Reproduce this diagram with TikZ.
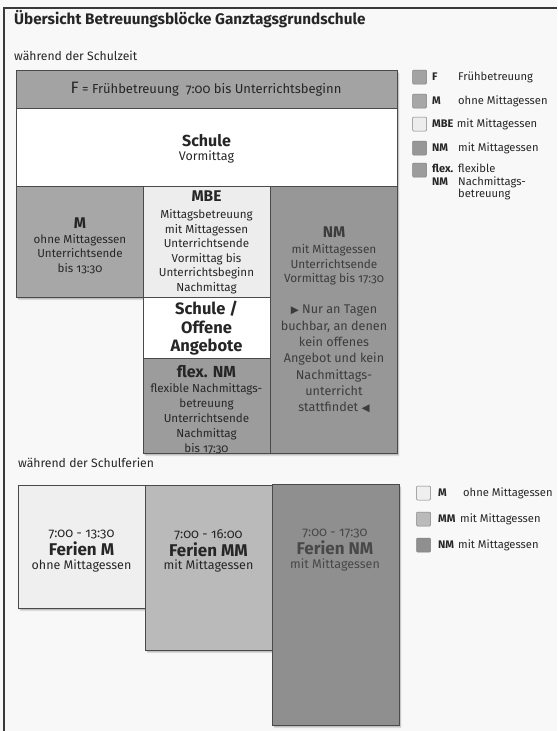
\documentclass[tikz,border=0pt]{standalone}
\usepackage{fontspec}
\setmainfont{Fira Sans}[Numbers=OldStyle]
\newfontfamily\symfont{DejaVu Sans}
\definecolor{bgcol}{HTML}{F8F8F8}
\definecolor{framecol}{HTML}{3A3A3A}
\definecolor{boxline}{HTML}{4A4A4A}
\definecolor{ink}{HTML}{262626}
\definecolor{inkNM}{HTML}{3C3C3C}
\definecolor{inkFNM}{HTML}{484848}
\definecolor{Fcol}{HTML}{A3A3A3}
\definecolor{Mcol}{HTML}{A7A7A7}
\definecolor{MBEcol}{HTML}{EDEDED}
\definecolor{NMcol}{HTML}{979797}
\definecolor{flexcol}{HTML}{9C9C9C}
\definecolor{FMcol}{HTML}{EFEFEF}
\definecolor{FMMcol}{HTML}{BABABA}
\definecolor{FNMcol}{HTML}{8F8F8F}
\begin{document}
\begin{tikzpicture}[x=1pt,y=-1pt,
  box/.style={draw=boxline, line width=0.6pt, anchor=north west, inner sep=0pt, outer sep=0pt},
  txt/.style={align=center, inner sep=0pt, text=ink},
  body/.style={font=\fontsize{11.6}{14.6}\selectfont},
  legbox/.style={draw=boxline!70, line width=0.5pt, rounded corners=1pt, minimum width=14pt, minimum height=14pt, inner sep=0pt},
  legkey/.style={anchor=west, inner sep=0pt, text=ink, font=\fontsize{11}{12.5}\selectfont\bfseries},
  legtxt/.style={anchor=west, inner sep=0pt, text=ink, font=\fontsize{11.2}{12.5}\selectfont}]
\useasboundingbox (0,0) rectangle (557,731);
\fill[bgcol] (0,0) rectangle (557,731);
\draw[framecol, line width=1.4pt] (4,731) -- (4,8) -- (557,8);

% titles
\node[anchor=base west, inner sep=0pt, text=ink, font=\fontsize{15.3}{18}\selectfont\bfseries] (title) at (14,24) {Übersicht Betreuungsblöcke Ganztagsgrundschule};
\node[anchor=base west, inner sep=0pt, text=ink, font=\fontsize{12.2}{13}\selectfont] (schulzeit) at (14,60) {während der Schulzeit};
\node[anchor=base west, inner sep=0pt, text=ink, font=\fontsize{12.2}{13}\selectfont] (ferienlbl) at (18,467) {während der Schulferien};

% soft shadows
\foreach \o in {1,2,3,4}{
\begin{scope}[transparency group, opacity=0.09, shift={(\o*0.6,\o*0.8)}]
  \fill[black] (16,70) rectangle (397,297);
  \fill[black] (143,297) rectangle (397,453);
  \fill[black] (18,485) rectangle (145,608);
  \fill[black] (145,485) rectangle (272,650);
  \fill[black] (272,484) rectangle (399,725);
\end{scope}}

% school-time boxes
\node[box, fill=Fcol, minimum width=381pt, minimum height=38pt] (F) at (16,70) {};
\node[box, fill=white, minimum width=381pt, minimum height=78pt] (S) at (16,108) {};
\node[box, fill=Mcol, minimum width=127pt, minimum height=111pt] (M) at (16,186) {};
\node[box, fill=MBEcol, minimum width=127pt, minimum height=111pt] (MBE) at (143,186) {};
\node[box, fill=NMcol, minimum width=127pt, minimum height=267pt] (NM) at (270,186) {};
\node[box, fill=white, minimum width=127pt, minimum height=61pt] (OA) at (143,297) {};
\node[box, fill=flexcol, minimum width=127pt, minimum height=95pt] (flex) at (143,358) {};

% texts
\node[txt, font=\fontsize{13}{14}\selectfont] (Ft) at (206,89) {{\fontsize{16.5}{15}\selectfont F} = Frühbetreuung\ \ 7:00 bis Unterrichtsbeginn};
\node[txt] (St) at (206.5,149) {{\fontsize{16}{15}\selectfont\bfseries Schule}\\[2pt]{\fontsize{12.5}{14}\selectfont Vormittag}};
\node[txt, body] (Mt) at (80,245.5) {{\fontsize{15.5}{15}\selectfont\bfseries M}\\[0.5pt]ohne Mittagessen\\Unterrichtsende\\bis 13:30};
\node[txt, body] (MBEt) at (206.5,242.5) {{\fontsize{15.5}{15}\selectfont\bfseries MBE}\\[2pt]Mittagsbetreuung\\mit Mittagessen\\Unterrichtsende\\Vormittag bis\\Unterrichtsbeginn\\Nachmittag};
\node[txt, text=inkNM, font=\fontsize{11.8}{14.5}\selectfont] (NMt) at (334,256) {{\fontsize{15.5}{15}\selectfont\bfseries NM}\\[1.5pt]mit Mittagessen\\Unterrichtsende\\Vormittag bis 17:30};
\node[txt, text=inkNM, font=\fontsize{12.6}{16.3}\selectfont] (NMt2) at (334,359) {{\symfont\fontsize{10.5}{10}\selectfont ▶} Nur an Tagen\\buchbar, an denen\\kein offenes\\Angebot und kein\\Nachmittags-\\unterricht\\stattfindet {\symfont\fontsize{10.5}{10}\selectfont ◀}};
\node[txt, font=\fontsize{16.5}{18.5}\selectfont\bfseries] (OAt) at (206.5,328.5) {Schule /\\Offene\\Angebote};
\node[txt, font=\fontsize{11.6}{15}\selectfont] (flext) at (206.5,409.5) {{\fontsize{16}{15}\selectfont\bfseries flex. NM}\\[0pt]flexible Nachmittags-\\betreuung\\Unterrichtsende\\Nachmittag\\bis 17:30};

% legend school time
\node[legbox, fill=Fcol] (lF) at (419.5,77) {};
\node[legkey] (lFk) at (432,77) {F};
\node[legtxt] (lFt) at (458,77) {Frühbetreuung};
\node[legbox, fill=Mcol] (lM) at (419.5,101) {};
\node[legkey] (lMk) at (432,101) {M};
\node[legtxt] (lMt) at (458,101) {ohne Mittagessen};
\node[legbox, fill=MBEcol] (lMBE) at (419.5,124) {};
\node[legkey] (lMBEk) at (432,124) {MBE};
\node[legtxt] (lMBEt) at ([xshift=3pt]lMBEk.east) {mit Mittagessen};
\node[legbox, fill=NMcol] (lNM) at (419.5,148) {};
\node[legkey] (lNMk) at (432,148) {NM};
\node[legtxt] (lNMt) at (458,148) {mit Mittagessen};
\node[legbox, fill=flexcol] (lfl) at (419.5,170) {};
\node[legkey, anchor=north west, align=left] (lflk) at (432,164) {flex.\\NM};
\node[legtxt, anchor=north west, align=left] (lflt) at (458,164) {flexible\\Nachmittags-\\betreuung};

% holiday boxes
\node[box, fill=FMcol, minimum width=127pt, minimum height=123pt] (FM) at (18,485) {};
\node[box, fill=FMMcol, minimum width=127pt, minimum height=165pt] (FMM) at (145,485) {};
\node[box, fill=FNMcol, minimum width=127pt, minimum height=241pt] (FNM) at (272,484) {};
\node[txt] (FMt) at (81.5,551) {{\fontsize{13}{15}\selectfont 7:00 - 13:30}\\[1.5pt]{\fontsize{17}{17}\selectfont\bfseries Ferien M}\\[1.5pt]{\fontsize{12.5}{14}\selectfont ohne Mittagessen}};
\node[txt] (FMMt) at (208.5,551) {{\fontsize{13}{15}\selectfont 7:00 - 16:00}\\[1.5pt]{\fontsize{17}{17}\selectfont\bfseries Ferien MM}\\[1.5pt]{\fontsize{12.5}{14}\selectfont mit Mittagessen}};
\node[txt, text=inkFNM] (FNMt) at (335,550) {{\fontsize{13}{15}\selectfont 7:00 - 17:30}\\[1.5pt]{\fontsize{17}{17}\selectfont\bfseries Ferien NM}\\[1.5pt]{\fontsize{12.5}{14}\selectfont mit Mittagessen}};

% legend holidays
\node[legbox, fill=FMcol] (lFM) at (423.5,493) {};
\node[legkey] (lFMk) at (438,493) {M};
\node[legtxt] (lFMt) at (463,493) {ohne Mittagessen};
\node[legbox, fill=FMMcol] (lFMM) at (423.5,519) {};
\node[legkey] (lFMMk) at (438,519) {MM};
\node[legtxt] (lFMMt) at (460,519) {mit Mittagessen};
\node[legbox, fill=FNMcol] (lFNM) at (423.5,545) {};
\node[legkey] (lFNMk) at (438,545) {NM};
\node[legtxt] (lFNMt) at (458,545) {mit Mittagessen};
\end{tikzpicture}
\end{document}
